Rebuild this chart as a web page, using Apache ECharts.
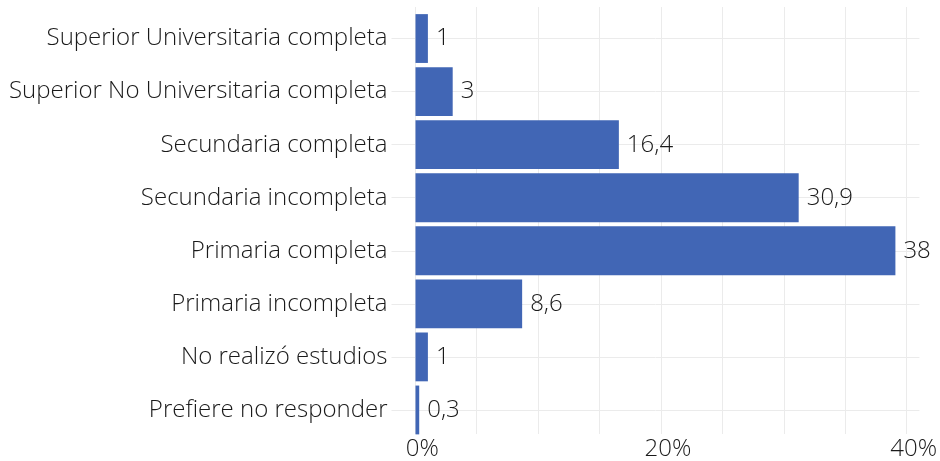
<!DOCTYPE html>
<html>
<head>
<meta charset="utf-8">
<script src="https://cdn.jsdelivr.net/npm/echarts@6/dist/echarts.min.js"></script>
<style>
  html, body { margin: 0; padding: 0; background: #fff; }
  #chart { width: 940px; height: 461px; }
</style>
</head>
<body>
<div id="chart"></div>
<script>
// categorías (de arriba hacia abajo)
const categorias = [
    'Superior Universitaria completa',
    'Superior No Universitaria completa',
    'Secundaria completa',
    'Secundaria incompleta',
    'Primaria completa',
    'Primaria incompleta',
    'No realizó estudios',
    'Prefiere no responder'
];
// largo de barra (%)
const porcentajes = [1, 3, 16.4, 30.9, 38.7, 8.6, 1, 0.3];
// etiquetas tal como aparecen
const etiquetas = ['1', '3', '16,4', '30,9', '38', '8,6', '1', '0,3'];
// rejilla y marcas del eje x
const lineasX = [0, 5, 10, 15, 20, 25, 30, 35, 40];
const marcasX = [0, 20, 40];

const FUENTE = '"Open Sans", "Noto Sans", sans-serif';
const TAM = 24;
const X_MIN = -1.935, X_MAX = 40.635;
const gris = '#ebebeb';

const chart = echarts.init(document.getElementById('chart'));

chart.setOption({
    animation: false,
    grid: [
        { left: 391.5, right: 20.6, top: 12, bottom: 24.5 },   // barras
        { left: 391.5, right: 20.6, top: 7, bottom: 19 }       // fondo
    ],
    xAxis: [
        { gridIndex: 0, type: 'value', min: X_MIN, max: X_MAX, show: false },
        {
            gridIndex: 1, type: 'value', min: X_MIN, max: X_MAX,
            axisLine: { show: false }, axisTick: { show: false }, splitLine: { show: false },
            axisLabel: {
                customValues: marcasX, formatter: '{value}%', margin: 3,
                fontFamily: FUENTE, fontSize: TAM, fontWeight: 300, color: '#1a1a1a',
                padding: [0, 0, 0, 14]
            }
        }
    ],
    yAxis: [
        {
            gridIndex: 0, type: 'category', data: categorias, inverse: true,
            axisLine: { show: false }, axisTick: { show: false }, splitLine: { show: false },
            axisLabel: { margin: 4, fontFamily: FUENTE, fontSize: TAM, fontWeight: 300, color: '#1a1a1a' }
        },
        { gridIndex: 1, type: 'value', min: 0, max: 1, show: false }
    ],
    series: [
        {
            // líneas verticales del fondo
            type: 'line', xAxisIndex: 1, yAxisIndex: 1, data: [], silent: true,
            markLine: {
                silent: true, symbol: 'none', z: 1,
                label: { show: false },
                lineStyle: { color: gris, width: 1, type: 'solid' },
                data: lineasX.map(v => ({ xAxis: v }))
            }
        },
        {
            type: 'bar', xAxisIndex: 0, yAxisIndex: 0,
            data: porcentajes,
            barCategoryGap: '8%',
            itemStyle: { color: '#4166b5' },
            z: 3,
            label: {
                show: true, position: 'right', distance: 8,
                formatter: p => etiquetas[p.dataIndex],
                fontFamily: FUENTE, fontSize: TAM, fontWeight: 300, color: '#1a1a1a'
            },
            markLine: {
                silent: true, symbol: 'none', z: 1,
                label: { show: false },
                lineStyle: { color: gris, width: 1, type: 'solid' },
                data: categorias.map(c => ({ yAxis: c }))
            }
        }
    ]
});
</script>
</body>
</html>
